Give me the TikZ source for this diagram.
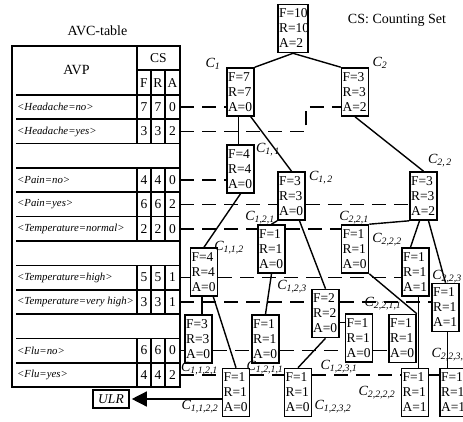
\documentclass[tikz,border=0pt]{standalone}
\usepackage{fontspec}
\setmainfont{Liberation Serif}
\usetikzlibrary{arrows.meta}
\tikzset{
	cnt/.style={rectangle, draw=black, fill=white, line width=1.6pt, align=left, text width=25pt, inner xsep=1pt, inner ysep=0pt, minimum height=48pt, font=\fontsize{13.5}{15}\selectfont},
	widecnt/.style={cnt, text width=28pt},
	cname/.style={inner sep=0pt, font=\fontsize{14}{16}\selectfont\itshape},
	title/.style={inner sep=0pt, font=\fontsize{14}{16}\selectfont},
	avp/.style={anchor=west, inner sep=0pt, font=\fontsize{10.8}{12}\selectfont\itshape},
	num/.style={inner sep=0pt, minimum width=14pt, font=\fontsize{13.5}{15}\selectfont},
	numa/.style={num, minimum width=15pt},
	tab/.style={line width=1.6pt},
	edge/.style={line width=1.4pt},
	dline/.style={line width=1.6pt, dash pattern=on 14pt off 8pt},
	arrow/.style={-{Triangle[length=15pt, width=15pt]}, line width=1.4pt, shorten >=2pt},
}
\newcommand{\Cidx}[1]{C\textsubscript{#1}}

\begin{document}
\begin{tikzpicture}[x=1pt, y=-1pt]
	\useasboundingbox (0,0) rectangle (463,422);
	% AVC table
	\node[title] (avctitle) at (97.5,31) {AVC-table};
	\node[title] (legend) at (397,20) {CS: Counting Set};
	\draw[tab] (12,46) rectangle (180,387);
	\draw[tab] (137,46) -- (137,95);
	\draw[tab] (137,70) -- (180,70);
	\draw[tab] (151,70) -- (151,95) (165,70) -- (165,95);
	\node[title] (havp) at (76.5,70) {AVP};
	\node[num] (hcs) at (158.5,58) {CS};
	\node[num] (hf) at (144,83) {F};
	\node[num] (hr) at (158,83) {R};
	\node[numa] (ha) at (172.5,83) {A};
	\foreach \y in {95,119.3,143.7,168,192.3,216.7,241,265.3,289.7,314,338.3,362.7}
		\draw[tab] (16,\y) -- (180,\y);
	\foreach \x in {137,151,165}
		\draw[tab] (\x,95) -- (\x,143.7) (\x,168) -- (\x,241) (\x,265.3) -- (\x,314) (\x,338.3) -- (\x,387);
	\foreach \i/\y/\t/\f/\a in {0/107.2/Headache=no/7/0, 1/131.5/Headache=yes/3/2, 3/180.2/Pain=no/4/0, 4/204.5/Pain=yes/6/2, 5/228.8/Temperature=normal/2/0, 7/277.5/Temperature=high/5/1, 8/301.8/Temperature=very high/3/1, 10/350.5/Flu=no/6/0, 11/374.8/Flu=yes/4/2}{
		\node[avp] (p\i) at (17,\y) {<\t>};
		\node[num] (f\i) at (144,\y) {\f};
		\node[num] (r\i) at (158,\y) {\f};
		\node[numa] (x\i) at (172.5,\y) {\a};
	}
	% counting tree
	\node[widecnt] (root) at (293,28.5) {F=10\\R=10\\A=2};
	\node[cnt] (C1) at (240.5,92) {F=7\\R=7\\A=0};
	\node[cnt] (C2) at (355,92) {F=3\\R=3\\A=2};
	\node[cnt] (C11) at (240.5,169) {F=4\\R=4\\A=0};
	\node[cnt] (C12) at (291.5,196) {F=3\\R=3\\A=0};
	\node[cnt] (C22) at (423.5,196) {F=3\\R=3\\A=2};
	\node[cnt] (C121) at (271.5,249) {F=1\\R=1\\A=0};
	\node[cnt] (C221) at (355,249) {F=1\\R=1\\A=0};
	\node[cnt] (C112) at (204,272) {F=4\\R=4\\A=0};
	\node[cnt] (C222) at (415.5,272) {F=1\\R=1\\A=1};
	\node[cnt] (C223) at (445.5,307.5) {F=1\\R=1\\A=1};
	\node[cnt] (C123) at (325.5,313.5) {F=2\\R=2\\A=0};
	\node[cnt] (C1121) at (198.5,339) {F=3\\R=3\\A=0};
	\node[cnt] (C1211) at (265.5,339) {F=1\\R=1\\A=0};
	\node[cnt] (C1231) at (359,338) {F=1\\R=1\\A=0};
	\node[cnt] (C2211) at (402.5,338.5) {F=1\\R=1\\A=0};
	\node[cnt] (C1122) at (236,392.5) {F=1\\R=1\\A=0};
	\node[cnt] (C1232) at (298,392.5) {F=1\\R=1\\A=0};
	\node[cnt] (C2222) at (415,392.5) {F=1\\R=1\\A=1};
	\node[cnt] (C2231) at (453.5,392.5) {F=1\\R=1\\A=1};
	\node[draw, line width=1.6pt, inner sep=1pt, minimum width=36pt, minimum height=18pt, font=\fontsize{13.5}{15}\selectfont\itshape] (ulr) at (111,399) {ULR};
	% names
	\node[cname] (nC1) at (213,64) {\Cidx{1}};
	\node[cname] (nC2) at (380,63) {\Cidx{2}};
	\node[cname] (nC11) at (268,150) {\Cidx{1,\,1}};
	\node[cname] (nC12) at (321,178) {\Cidx{1,\,2}};
	\node[cname] (nC22) at (440,161) {\Cidx{2,\,2}};
	\node[cname] (nC121) at (260,218) {\Cidx{1,2,1}};
	\node[cname] (nC221) at (354,218) {\Cidx{2,2,1}};
	\node[cname] (nC112) at (229,248) {\Cidx{1,1,2}};
	\node[cname] (nC222) at (387,240) {\Cidx{2,2,2}};
	\node[cname] (nC223) at (447,277) {\Cidx{2,2,3}};
	\node[cname] (nC123) at (292,287) {\Cidx{1,2,3}};
	\node[cname] (nC2211) at (383,304) {\Cidx{2,2,1,1}};
	\node[cname] (nC2231) at (450,355) {\Cidx{2,2,3,1}};
	\node[cname] (nC1121) at (199.5,369) {\Cidx{1,1,2,1}};
	\node[cname] (nC1211) at (265,368) {\Cidx{1,2,1,1}};
	\node[cname] (nC1231) at (339,367) {\Cidx{1,2,3,1}};
	\node[cname] (nC1122) at (200,407) {\Cidx{1,1,2,2}};
	\node[cname] (nC1232) at (333,407) {\Cidx{1,2,3,2}};
	\node[cname] (nC2222) at (377,393) {\Cidx{2,2,2,2}};
	% tree edges
	\draw[edge] (root.south) -- (C1.north east);
	\draw[edge] (root.south) -- (C2.north west);
	\draw[edge] ([xshift=-2pt]C1.south) -- ([xshift=-2pt]C11.north);
	\draw[edge] ([xshift=-4pt]C1.south east) -- (C12.north);
	\draw[edge] (C2.south) -- (C22.north);
	\draw[edge] (C11.south) -- (C112.north);
	\draw[edge] (C12.south west) -- (C121.north);
	\draw[edge] ([xshift=8pt]C12.south) -- (C123.north);
	\draw[edge] (C22.south west) -- (C221.north east);
	\draw[edge] ([xshift=-4pt]C22.south) -- ([xshift=-5pt]C222.north);
	\draw[edge] ([xshift=5pt]C22.south) -- (C223.north);
	\draw[edge] ([xshift=-2pt]C112.south) -- ([xshift=-2pt]C112.south |- C1121.north);
	\draw[edge] ([xshift=-5pt]C112.south east) -- (C1122.north);
	\draw[edge] (C121.south) -- (C1211.north);
	\draw[edge] (C123.south) -- (C1232.north);
	\coordinate (k1) at ([yshift=-9pt]C123.east);
	\draw[edge] (k1) -- (k1 -| C1231.west);
	\draw[edge] (C221.south east) -- (C2211.north east);
	\draw[edge] ([xshift=3pt]C222.south) -- ([xshift=3pt]C222.south |- C2222.north);
	\draw[edge] ([xshift=2pt]C223.south) -- ([xshift=2pt]C223.south |- C2231.north);
	\draw[arrow] (C1122.west |- ulr.east) -- (ulr.east);
	% counting links
	\draw[dline] (x0.east) -- (C1.west |- x0.east);
	\draw[dline] (x1.east) -- (306,131.5) |- (C2.west |- x0.east);
	\draw[dline] (x3.east) -- (C11.west |- x3.east);
	\draw[dline] (x4.east) -- (C12.west |- x4.east);
	\draw[dline] (C12.east |- x4.east) -- (C22.west |- x4.east);
	\draw[dline] (x5.east) -- (C121.west |- x5.east);
	\draw[dline] (C121.east |- x5.east) -- (C221.west |- x5.east);
	\draw[dline] (x7.east) -- (C112.west |- x7.east);
	\draw[dline] (C112.east |- x7.east) -- (C222.west |- x7.east);
	\draw[dline] (x8.east) -- (C123.west |- x8.east);
	\draw[dline] (C123.east |- x8.east) -- (C223.west |- x8.east);
	\draw[dline] (x10.east) -- (C1121.west |- x10.east);
	\draw[dline] (C1121.east |- x10.east) -- (C1211.west |- x10.east);
	\draw[dline] (C1211.east |- x10.east) -- (C1231.west |- x10.east);
	\draw[dline] (C1231.east |- x10.east) -- (C2211.west |- x10.east);
	\draw[dline] (x11.east) -- (C1122.west |- x11.east);
	\draw[dline] (C1122.east |- x11.east) -- (C1232.west |- x11.east);
	\draw[dline] (C1232.east |- x11.east) -- (C2222.west |- x11.east);
	\draw[dline] (C2222.east |- x11.east) -- (C2231.west |- x11.east);
\end{tikzpicture}
\end{document}
